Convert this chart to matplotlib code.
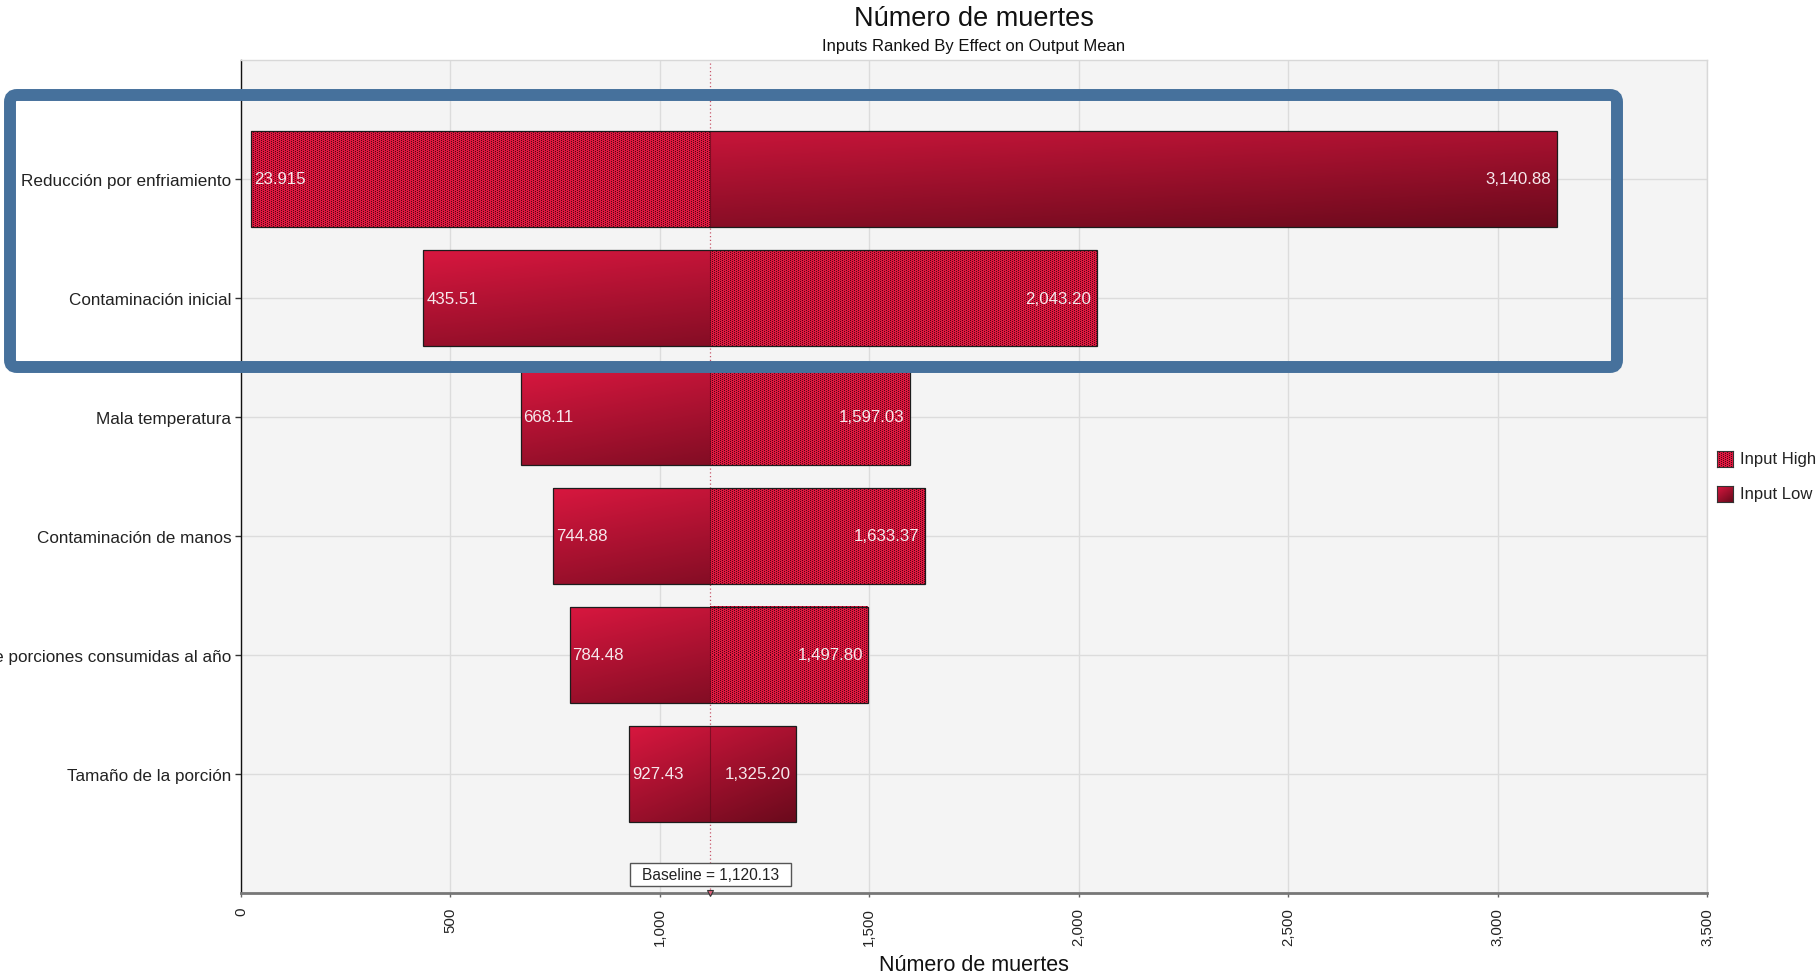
import numpy as np
import matplotlib
matplotlib.use("Agg")
import matplotlib.pyplot as plt
from matplotlib.patches import Rectangle, FancyBboxPatch
from matplotlib.colors import to_rgb
from matplotlib.transforms import IdentityTransform, blended_transform_factory

plt.rcParams['font.family'] = ['Liberation Sans', 'DejaVu Sans']

# ---------------- data ----------------
categories = ["Reducción por enfriamiento", "Contaminación inicial", "Mala temperatura",
              "Contaminación de manos", "Número de porciones consumidas al año",
              "Tamaño de la porción"]
left_values = [23.915, 435.51, 668.11, 744.88, 784.48, 927.43]
right_values = [3140.88, 2043.20, 1597.03, 1633.37, 1497.80, 1325.20]
left_labels = ["23.915", "435.51", "668.11", "744.88", "784.48", "927.43"]
right_labels = ["3,140.88", "2,043.20", "1,597.03", "1,633.37", "1,497.80", "1,325.20"]
left_input = ["High", "Low", "Low", "Low", "Low", "Low"]
right_input = ["Low", "High", "High", "High", "High", "Low"]
baseline = 1120.13
x_ticks = [0, 500, 1000, 1500, 2000, 2500, 3000, 3500]
title = "Número de muertes"
subtitle = "Inputs Ranked By Effect on Output Mean"
x_label = "Número de muertes"
legend_labels = ["Input High", "Input Low"]

# ---------------- style ----------------
W, H = 1818, 979
BRIGHT = np.array(to_rgb('#d8173f'))
DARK = np.array(to_rgb('#6a0a1c'))
DOT_BASE = np.array(to_rgb('#e0183f'))
DOT_DARK = np.array(to_rgb('#520618'))
BAR_H = 0.8


def gradient(n=160):
    xs = np.linspace(0, 1, n)
    X, Y = np.meshgrid(xs, xs)
    t = 0.42 * X + 0.58 * Y
    return BRIGHT[None, None, :] * (1 - t[..., None]) + DARK[None, None, :] * t[..., None]


def texture(hp, wp):
    r = np.arange(hp)[:, None]
    c = np.arange(wp)[None, :]
    dots = ((r % 2 == 0) & (c % 4 == 0)) | ((r % 2 == 1) & (c % 4 == 2))
    img = np.empty((hp, wp, 3))
    img[:] = DOT_BASE
    img[dots] = DOT_DARK
    return img


fig = plt.figure(figsize=(W / 100, H / 100), dpi=100)
ax = fig.add_axes([241 / W, 1 - 894 / H, (1707 - 241) / W, (894 - 61) / H])
ax.set_facecolor('#f4f4f4')

n = len(categories)
ax.set_xlim(0, 3500)
ax.set_ylim(n, -1)

# baseline dotted line
ax.axvline(baseline, color='#c8566a', lw=0.9, ls=(0, (1, 2)), zorder=1.5)

g = gradient()
inv = ax.transData.inverted()
for i, cat in enumerate(categories):
    l, r = left_values[i], right_values[i]
    top, bot = i - BAR_H / 2, i + BAR_H / 2
    ax.imshow(g, extent=(l, r, bot, top), origin='upper', aspect='auto',
              interpolation='bilinear', zorder=2)
    segs = [(l, baseline, left_input[i]), (baseline, r, right_input[i])]
    for s0, s1, kind in segs:
        if kind == "High":
            p0 = np.round(ax.transData.transform((s0, top)))
            p1 = np.round(ax.transData.transform((s1, bot)))
            d0 = inv.transform(p0)
            d1 = inv.transform(p1)
            wp = max(1, int(abs(p1[0] - p0[0])))
            hp = max(1, int(abs(p1[1] - p0[1])))
            ax.imshow(texture(hp, wp), extent=(d0[0], d1[0], d1[1], d0[1]), origin='upper',
                      aspect='auto', interpolation='nearest', zorder=2.5)
    ax.plot([baseline, baseline], [top, bot], color='#5a0a18', lw=0.8, alpha=0.6, zorder=3)
    ax.add_patch(Rectangle((l, top), r - l, BAR_H, fill=False, ec='#1c1c1c', lw=0.9, zorder=4))
    ax.annotate(left_labels[i], (l, i), xytext=(2, 0), textcoords='offset points',
                ha='left', va='center', color='#f6e8ec', fontsize=12.2, zorder=5)
    ax.annotate(right_labels[i], (r, i), xytext=(-4, 0), textcoords='offset points',
                ha='right', va='center', color='#f6e8ec', fontsize=12.2, zorder=5)

ax.set_xlim(0, 3500)
ax.set_ylim(n, -1)

# baseline label with a box drawn around the measured text
btr = blended_transform_factory(ax.transData, ax.transAxes)
bt = ax.text(baseline, 0.022, f"Baseline = {baseline:,.2f}", transform=btr, ha='center',
             va='center', fontsize=11.2, color='#222222', zorder=7)
renderer = fig.canvas.get_renderer()
bb = bt.get_window_extent(renderer)
ax.add_artist(Rectangle((bb.x0 - 12, bb.y0 - 4), bb.width + 24, bb.height + 8,
                        transform=IdentityTransform(), fc='white', ec='#555555', lw=1,
                        zorder=6, clip_on=False))
ax.plot([baseline], [0.0], transform=btr, marker='v', ms=5, mfc='#e0607a', mec='#333333',
        mew=0.8, clip_on=False, zorder=8)

# ticks
ax.set_xticks(x_ticks)
ax.set_xticklabels([f"{v:,}" for v in x_ticks], rotation=90, fontsize=10.8, color='#222222')
ax.set_yticks(range(n))
ax.set_yticklabels(categories, fontsize=12.3, color='#222222')
ax.tick_params(axis='y', length=4, width=1, color='#333333', pad=3)
ax.tick_params(axis='x', length=3, width=1, color='#666666', pad=7)

ax.grid(True, color='#dcdcdc', lw=1)
ax.set_axisbelow(True)
ax.spines['left'].set_color('#111111')
ax.spines['left'].set_linewidth(1)
ax.spines['bottom'].set_color('#777777')
ax.spines['bottom'].set_linewidth(2)
for s in ('top', 'right'):
    ax.spines[s].set_color('#d8d8d8')
    ax.spines[s].set_linewidth(1)

# titles
fig.text(974 / W, 1 - 18.5 / H, title, ha='center', va='center', fontsize=19.5, color='#111111')
fig.text(974 / W, 1 - 46 / H, subtitle, ha='center', va='center', fontsize=12, color='#111111')
fig.text(974 / W, 1 - 966 / H, x_label, ha='center', va='center', fontsize=15.5, color='#111111')

# legend
for j, lab in enumerate(legend_labels):
    yc = 460 + j * 34.5
    lax = fig.add_axes([1717 / W, 1 - (yc + 8) / H, 16 / W, 16 / H])
    if lab == "Input High":
        lax.imshow(texture(16, 16), aspect='auto', interpolation='nearest')
    else:
        lax.imshow(gradient(16), aspect='auto', interpolation='bilinear')
    lax.set_xticks([])
    lax.set_yticks([])
    for s in lax.spines.values():
        s.set_color('#333333')
        s.set_linewidth(0.8)
    fig.text(1740 / W, 1 - yc / H, lab, ha='left', va='center', fontsize=12, color='#222222')

# highlight box
box = FancyBboxPatch((10, H - 368), 1607, 272, boxstyle='round,pad=0,rounding_size=7',
                     transform=IdentityTransform(), fill=False, ec='#46719c', lw=8.6,
                     zorder=10, clip_on=False)
fig.add_artist(box)

fig.savefig('out.png', dpi=100)
